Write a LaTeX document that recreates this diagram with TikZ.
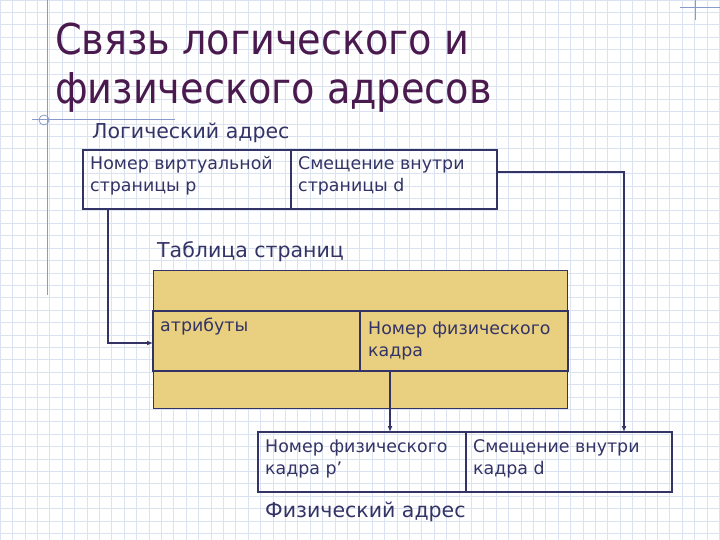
\documentclass[tikz,border=0pt]{standalone}
\usepackage{fontspec}
\setmainfont{DejaVu Sans}
\newfontfamily\titlefont{DejaVu Sans Condensed}
\usetikzlibrary{arrows.meta}
\definecolor{ink}{HTML}{333366}
\definecolor{titlec}{HTML}{4A1A4F}
\definecolor{gold}{HTML}{E8D080}
\definecolor{gridc}{HTML}{DCE3F0}
\definecolor{decor}{HTML}{8899CC}
\tikzset{
  box/.style={draw=ink,line width=1.6pt},
  lbl/.style={anchor=west,inner sep=0pt,text=ink,font=\fontsize{17.4}{22}\selectfont,align=left},
  head/.style={anchor=west,inner sep=0pt,text=ink,font=\fontsize{20.5}{24}\selectfont},
  conn/.style={draw=ink,line width=1.4pt,-{Latex[length=6pt,width=5pt]}}
}
\begin{document}
\begin{tikzpicture}[x=1pt,y=-1pt]
\useasboundingbox (0,0) rectangle (720,540);
\fill[white] (0,0) rectangle (720,540);
\foreach \i in {0,12.4,...,720} \draw[gridc,line width=0.6pt] (\i,0) -- (\i,540);
\foreach \i in {0,12.4,...,540} \draw[gridc,line width=0.6pt] (0,\i) -- (720,\i);
% decorations
\draw[decor,line width=1pt] (47,0) -- (47,295);
\draw[decor,line width=1pt] (32,120) -- (175,120);
\draw[decor,line width=0.8pt] (44,120) circle (5);
\draw[decor,line width=1pt] (695,0) -- (695,20);
\draw[decor,line width=1pt] (680,8) -- (720,8);
% title
\node[anchor=base west,inner sep=0pt,text=titlec,font=\titlefont\fontsize{42.5}{50}\selectfont] (t1) at (55,55) {Связь логического и};
\node[anchor=base west,inner sep=0pt,text=titlec,font=\titlefont\fontsize{42.5}{50}\selectfont] (t2) at (55,104) {физического адресов};
% logical address
\node[head] (lh) at (92,133) {Логический адрес};
\draw[box] (83,150) rectangle (497,209);
\draw[box] (291,150) -- (291,209);
\coordinate (lp) at (108,209);
\coordinate (ld) at (497,172);
\node[lbl] (l1) at (90,176) {Номер виртуальной\\страницы р};
\node[lbl] (l2) at (298,176) {Смещение внутри\\страницы d};
% page table
\node[head] (th) at (157,252) {Таблица страниц};
\fill[gold] (153,270) rectangle (567,408);
\draw[ink,line width=0.8pt] (153,270) rectangle (567,408);
\draw[box] (153,311) rectangle (568,371);
\draw[box] (360,311) -- (360,371);
\coordinate (ta) at (153,343);
\coordinate (tf) at (390,371);
\node[lbl,anchor=north west] (a1) at (160,318) {атрибуты};
\node[lbl] (a2) at (368,341) {Номер физического\\кадра};
% physical address
\draw[box] (258,432) rectangle (672,492);
\draw[box] (466,432) -- (466,492);
\coordinate (pf) at (390,432);
\coordinate (pd) at (624,432);
\node[lbl] (p1) at (265,459) {Номер физического\\кадра р’};
\node[lbl] (p2) at (473,459) {Смещение внутри\\кадра d};
\node[head] (ph) at (265,512) {Физический адрес};
% connectors
\draw[conn] (lp) |- (ta);
\draw[conn] (tf) -- (pf);
\draw[conn] (ld) -| (pd);
\end{tikzpicture}
\end{document}
